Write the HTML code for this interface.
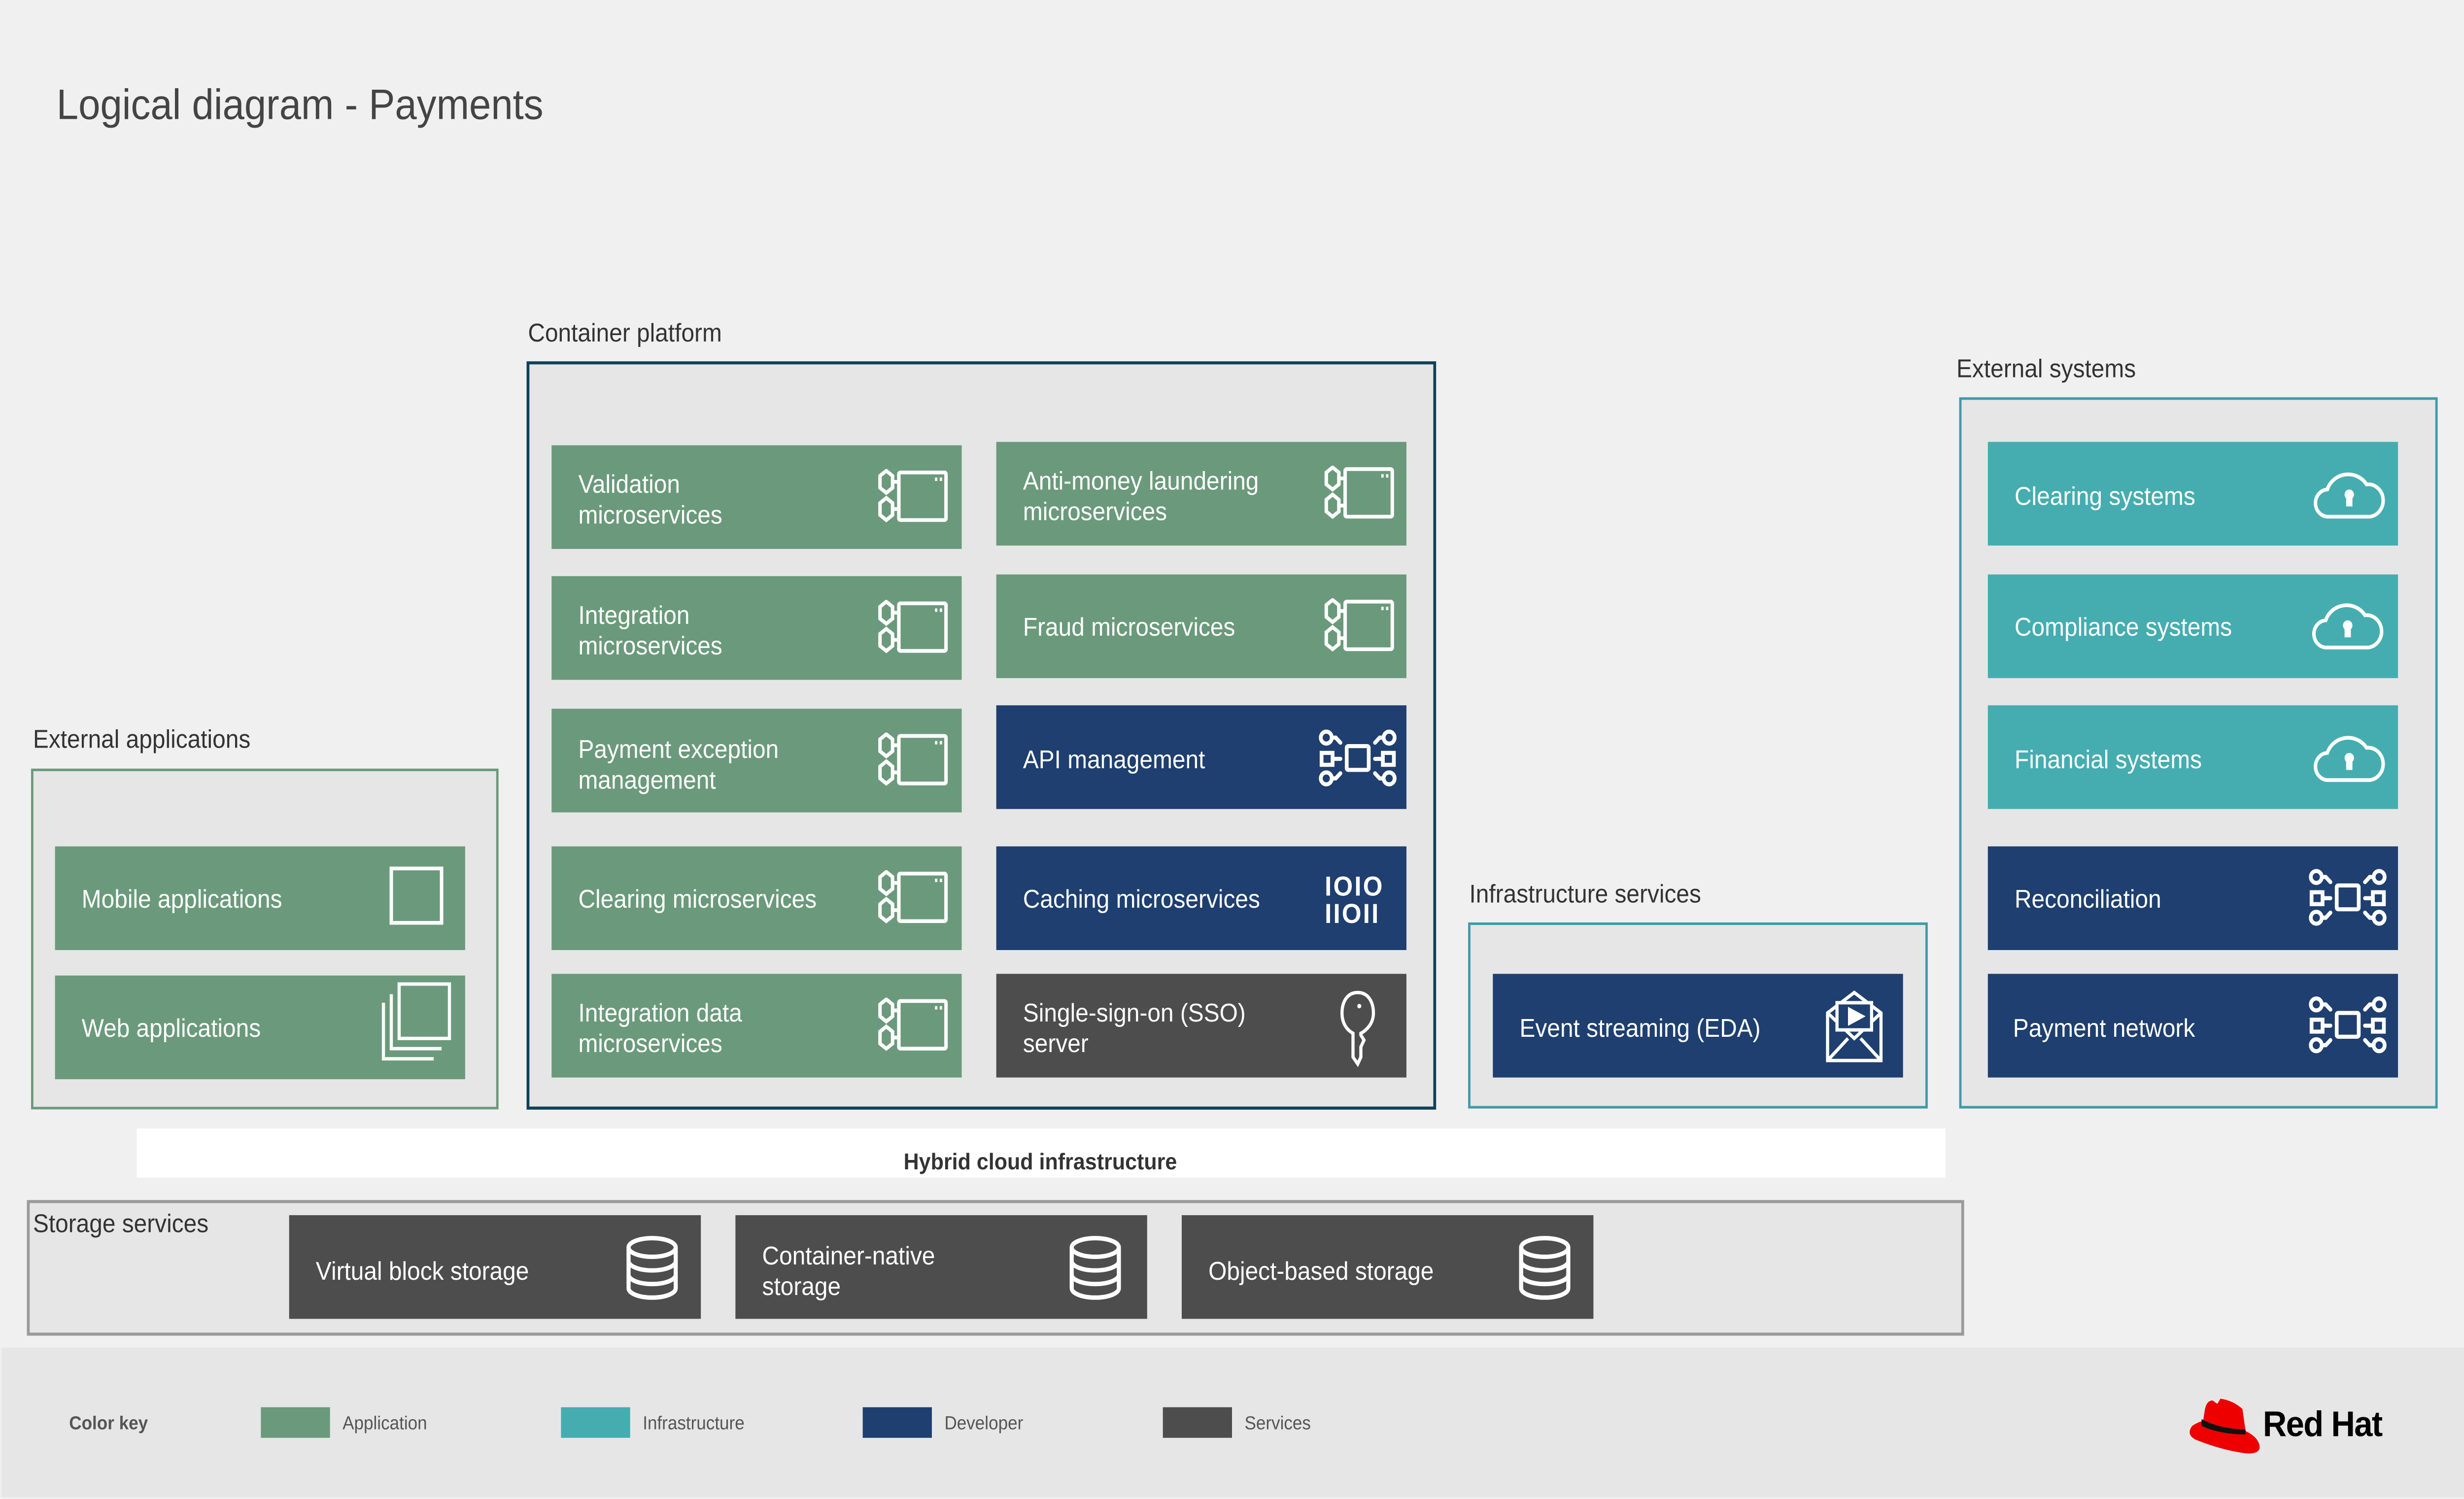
<!DOCTYPE html>
<html><head><meta charset="utf-8"><style>
html,body{margin:0;padding:0;background:#f0f0f0;overflow:hidden;width:100%;height:100%;}
svg{display:block;position:fixed;left:0;top:0;width:100vw;height:100vh;}
text{font-family:"Liberation Sans",sans-serif;}
.l{fill:#fff;font-size:15px;}
.h{fill:#333;font-size:15px;}
</style></head><body>
<svg viewBox="0 0 1568 882" preserveAspectRatio="none" xmlns="http://www.w3.org/2000/svg">
<defs>
<symbol id="ms" viewBox="0 0 48 32"><g fill="none" stroke="#fff" stroke-width="2.2"><path d="M4 4 L8 1 L12 4 L12 11 L8 14 L4 11Z"/><path d="M4 20 L8 17 L12 20 L12 27 L8 30 L4 27Z"/><path d="M12 7.5H16M12 23.5H16"/><rect x="16" y="2" width="30" height="28" rx="1"/></g><rect x="39" y="5" width="1.5" height="2" fill="#fff"/><rect x="42" y="5" width="1.5" height="2" fill="#fff"/></symbol>
<symbol id="net" viewBox="0 0 50 34"><g fill="none" stroke="#fff" stroke-width="2.4" stroke-linecap="round"><circle cx="5" cy="5" r="3.5"/><circle cx="45" cy="5" r="3.5"/><circle cx="5" cy="29" r="3.5"/><circle cx="45" cy="29" r="3.5"/><rect x="2" y="14" width="7" height="7"/><rect x="41" y="14" width="7" height="7"/><rect x="18" y="10" width="14" height="14" rx="1"/><path d="M8.5 5H11L14 8M41.5 5H39L36 8M8.5 29H11L14 26M41.5 29H39L36 26M9 17.5H14M41 17.5H36"/></g></symbol>
<symbol id="cloud" viewBox="0 0 46 30"><path d="M10 28 A8 8 0 0 1 9 12 A14 13 0 0 1 34 9 A9.5 9.5 0 0 1 36 28 Z" fill="none" stroke="#fff" stroke-width="2.2"/><circle cx="23" cy="15" r="3" fill="#fff"/><rect x="21" y="15" width="4" height="7" fill="#fff"/></symbol>
<symbol id="db" viewBox="0 0 34 38"><g fill="none" stroke="#fff" stroke-width="2.6"><ellipse cx="17" cy="7" rx="15" ry="5.5"/><path d="M2 7V31A15 5.5 0 0 0 32 31V7M2 15A15 5.5 0 0 0 32 15M2 23A15 5.5 0 0 0 32 23"/></g></symbol>
</defs>
<rect x="0" y="0" width="1568" height="882" fill="#f0f0f0"/>
<text x="36" y="70" font-size="25" fill="#444">Logical diagram - Payments</text>

<text x="21" y="440" class="h">External applications</text>
<rect x="20.5" y="453" width="296" height="199" fill="#e6e6e6" stroke="#6a9a7b" stroke-width="1.5"/>
<rect x="35" y="498" width="261" height="61" fill="#6a9a7b"/>
<text x="52" y="534" class="l">Mobile applications</text>
<rect x="249" y="511" width="32" height="32" fill="none" stroke="#fff" stroke-width="2.2"/>
<rect x="35" y="574" width="261" height="61" fill="#6a9a7b"/>
<text x="52" y="610" class="l">Web applications</text>
<g fill="none" stroke="#fff" stroke-width="2"><rect x="254" y="579" width="32" height="32"/><path d="M249 585V617H281M244 590V623H276"/></g>

<text x="336" y="201" class="h">Container platform</text>
<rect x="336" y="213.5" width="577" height="438.5" fill="#e6e6e6" stroke="#0f4155" stroke-width="1.8"/>
<rect x="351" y="262" width="261" height="61" fill="#6a9a7b"/>
<text x="368" y="290" class="l">Validation</text><text x="368" y="308" class="l">microservices</text>
<use href="#ms" x="556" y="276" width="48" height="32"/>
<rect x="351" y="339" width="261" height="61" fill="#6a9a7b"/>
<text x="368" y="367" class="l">Integration</text><text x="368" y="385" class="l">microservices</text>
<use href="#ms" x="556" y="353" width="48" height="32"/>
<rect x="351" y="417" width="261" height="61" fill="#6a9a7b"/>
<text x="368" y="446" class="l">Payment exception</text><text x="368" y="464" class="l">management</text>
<use href="#ms" x="556" y="431" width="48" height="32"/>
<rect x="351" y="498" width="261" height="61" fill="#6a9a7b"/>
<text x="368" y="534" class="l">Clearing microservices</text>
<use href="#ms" x="556" y="512" width="48" height="32"/>
<rect x="351" y="573" width="261" height="61" fill="#6a9a7b"/>
<text x="368" y="601" class="l">Integration data</text><text x="368" y="619" class="l">microservices</text>
<use href="#ms" x="556" y="587" width="48" height="32"/>

<rect x="634" y="260" width="261" height="61" fill="#6a9a7b"/>
<text x="651" y="288" class="l">Anti-money laundering</text><text x="651" y="306" class="l">microservices</text>
<use href="#ms" x="840" y="274" width="48" height="32"/>
<rect x="634" y="338" width="261" height="61" fill="#6a9a7b"/>
<text x="651" y="374" class="l">Fraud microservices</text>
<use href="#ms" x="840" y="352" width="48" height="32"/>
<rect x="634" y="415" width="261" height="61" fill="#1e3f6f"/>
<text x="651" y="452" class="l">API management</text>
<use href="#net" x="839" y="429" width="50" height="34"/>
<rect x="634" y="498" width="261" height="61" fill="#1e3f6f"/>
<text x="651" y="534" class="l">Caching microservices</text>
<text x="843" y="527" fill="#fff" font-size="16" font-weight="bold" letter-spacing="1">IOIO</text>
<text x="843" y="543" fill="#fff" font-size="16" font-weight="bold" letter-spacing="1">IIOII</text>
<rect x="634" y="573" width="261" height="61" fill="#4d4d4d"/>
<text x="651" y="601" class="l">Single-sign-on (SSO)</text><text x="651" y="619" class="l">server</text>
<path d="M864 584 C857 584 854 590 854 596 C854 602 857 606 861 608 V622 L864 626 L866 622 V616 L868 612 L866 609 V608 C870 606 874 602 874 596 C874 590 871 584 864 584 Z" fill="none" stroke="#fff" stroke-width="2"/>
<circle cx="865" cy="592" r="1.3" fill="#fff"/>

<text x="935" y="531" class="h">Infrastructure services</text>
<rect x="935" y="543.5" width="291" height="108" fill="#e6e6e6" stroke="#3f9aa8" stroke-width="1.5"/>
<rect x="950" y="573" width="261" height="61" fill="#1e3f6f"/>
<text x="967" y="610" class="l">Event streaming (EDA)</text>
<g fill="none" stroke="#fff" stroke-width="2"><path d="M1163 596 L1180 584 L1197 596 V624 H1163 Z M1163 596 L1180 611 L1197 596 M1163 624 L1176 611 M1197 624 L1184 611"/><rect x="1169" y="590" width="22" height="16" fill="#1e3f6f"/><path d="M1177 594 L1185 598 L1177 602Z" fill="#fff"/></g>

<text x="1245" y="222" class="h">External systems</text>
<rect x="1247.5" y="234.5" width="303" height="417" fill="#e6e6e6" stroke="#3f9aa8" stroke-width="1.5"/>
<rect x="1265" y="260" width="261" height="61" fill="#45adb0"/>
<text x="1282" y="297" class="l">Clearing systems</text>
<use href="#cloud" x="1472" y="276" width="46" height="30"/>
<rect x="1265" y="338" width="261" height="61" fill="#45adb0"/>
<text x="1282" y="374" class="l">Compliance systems</text>
<use href="#cloud" x="1471" y="353" width="46" height="30"/>
<rect x="1265" y="415" width="261" height="61" fill="#45adb0"/>
<text x="1282" y="452" class="l">Financial systems</text>
<use href="#cloud" x="1472" y="431" width="46" height="30"/>
<rect x="1265" y="498" width="261" height="61" fill="#1e3f6f"/>
<text x="1282" y="534" class="l">Reconciliation</text>
<use href="#net" x="1469" y="511" width="50" height="34"/>
<rect x="1265" y="573" width="261" height="61" fill="#1e3f6f"/>
<text x="1281" y="610" class="l">Payment network</text>
<use href="#net" x="1469" y="586" width="50" height="34"/>

<rect x="87" y="664" width="1151" height="29" fill="#fff"/>
<text x="662" y="688" font-size="13.5" font-weight="bold" fill="#333" text-anchor="middle">Hybrid cloud infrastructure</text>

<rect x="18" y="707" width="1231" height="78" fill="#e6e6e6" stroke="#9a9a9a" stroke-width="1.8"/>
<text x="21" y="725" class="h">Storage services</text>
<rect x="184" y="715" width="262" height="61" fill="#4d4d4d"/>
<text x="201" y="753" class="l">Virtual block storage</text>
<use href="#db" x="398" y="727" width="34" height="38"/>
<rect x="468" y="715" width="262" height="61" fill="#4d4d4d"/>
<text x="485" y="744" class="l">Container-native</text><text x="485" y="762" class="l">storage</text>
<use href="#db" x="680" y="727" width="34" height="38"/>
<rect x="752" y="715" width="262" height="61" fill="#4d4d4d"/>
<text x="769" y="753" class="l">Object-based storage</text>
<use href="#db" x="966" y="727" width="34" height="38"/>

<rect x="1" y="793" width="1567" height="88" fill="#e6e6e6"/>
<text x="44" y="841" font-size="11" font-weight="bold" fill="#555">Color key</text>
<rect x="166" y="828" width="44" height="18" fill="#6a9a7b"/><text x="218" y="841" font-size="11" fill="#555">Application</text>
<rect x="357" y="828" width="44" height="18" fill="#45adb0"/><text x="409" y="841" font-size="11" fill="#555">Infrastructure</text>
<rect x="549" y="828" width="44" height="18" fill="#1e3f6f"/><text x="601" y="841" font-size="11" fill="#555">Developer</text>
<rect x="740" y="828" width="44" height="18" fill="#4d4d4d"/><text x="792" y="841" font-size="11" fill="#555">Services</text>
<g transform="translate(1393,820)">
<path d="M10 10 Q11 4 15 4 L18 6 L20 3 Q28 4 34 9 L36 22 Q45 26 45 32 Q44 36 35 35 Q20 33 4 27 Q-2 24 2 19 Q5 17 9 16 Z" fill="#e00"/>
<path d="M8 15 Q20 21 36 21 L36 24 Q20 24 8 19 Z" fill="#111"/>
</g>
<text x="1440" y="845" font-size="21" font-weight="bold" fill="#000" letter-spacing="-0.5">Red Hat</text>
</svg>
</body></html>
